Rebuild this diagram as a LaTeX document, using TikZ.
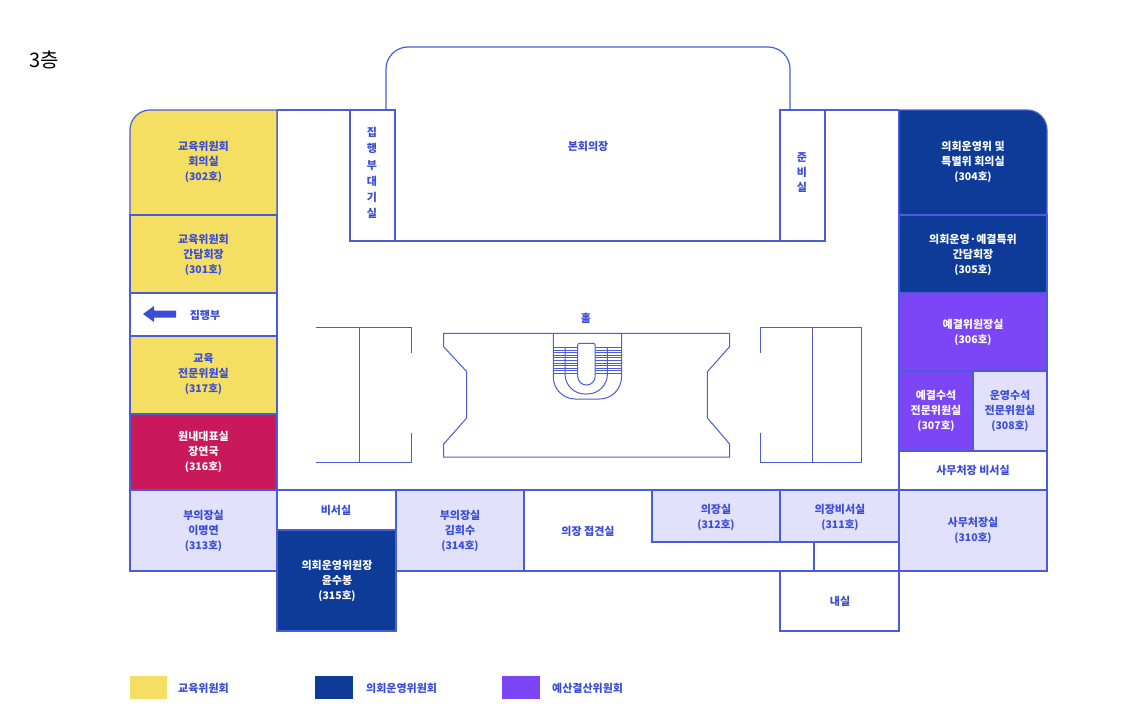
\documentclass[tikz,border=0pt]{standalone}
\usepackage{fontspec}
\setmainfont{Noto Sans CJK KR}
\definecolor{wallblue}{HTML}{4A5CD8}
\definecolor{txtblue}{HTML}{3B4DD6}
\definecolor{eduyellow}{HTML}{F5DF63}
\definecolor{opnavy}{HTML}{0E3B97}
\definecolor{budpurple}{HTML}{7C45F5}
\definecolor{repred}{HTML}{C9195A}
\definecolor{roomlav}{HTML}{E1E1FB}
\newcommand{\rno}[1]{{\fontsize{10.5}{15}\selectfont(#1호)}}
\begin{document}
\begin{tikzpicture}[x=1pt,y=-1pt,
    wall/.style={draw=wallblue, line width=1.2pt},
    thinwall/.style={draw=wallblue, line width=1pt},
    lbl/.style={text=txtblue, font=\bfseries\fontsize{11}{15}\selectfont, align=center, inner sep=0pt},
    wlbl/.style={lbl, text=white}]
  \useasboundingbox (0,0) rectangle (1140,720);
  \node (floor) at (44,60) {\fontsize{20}{24}\selectfont 3층};

  % outer walls of the middle block
  \draw[wall] (277,110) -- (350,110);
  \draw[wall] (825,110) -- (899,110);
  \draw[wall] (277,110) -- (277,490) -- (899,490) -- (899,110);

  % left column
  \draw[wall, fill=eduyellow] (130,215) -- (130,130) arc[start angle=180, end angle=270, radius=20]
    -- (277,110) -- (277,215) -- cycle;
  \node[lbl] (r302) at (203.5,162) {교육위원회\\회의실\\\rno{302}};
  \draw[wall, fill=eduyellow] (130,215) rectangle (277,293);
  \node[lbl] (r301) at (203.5,255) {교육위원회\\간담회장\\\rno{301}};
  \draw[wall, fill=white] (130,293) rectangle (277,336);
  \fill[txtblue] (176,310.5) -- (154,310.5) -- (154,306) -- (143,314) -- (154,322) -- (154,317.5) -- (176,317.5) -- cycle;
  \node[lbl] (exec) at (205,315) {집행부};
  \draw[wall, fill=eduyellow] (130,336) rectangle (277,414);
  \node[lbl] (r317) at (203.5,374.5) {교육\\전문위원실\\\rno{317}};
  \draw[wall, fill=repred] (130,414) rectangle (277,490);
  \node[wlbl] (r316) at (203.5,452) {원내대표실\\장연국\\\rno{316}};

  % top: plenary hall
  \draw[wall] (386,110) -- (386,69) arc[start angle=180, end angle=270, radius=22]
    -- (768,47) arc[start angle=270, end angle=360, radius=22] -- (790,110);
  \draw[wall, fill=white] (350,110) rectangle (395,241);
  \node[lbl, font=\bfseries\fontsize{11}{16.2}\selectfont] (waitrm) at (372,173) {집\\행\\부\\대\\기\\실};
  \draw[wall] (395,241) -- (780,241);
  \node[lbl] (plenary) at (588,146) {본회의장};
  \draw[wall, fill=white] (780,110) rectangle (825,241);
  \node[lbl] (prep) at (802,173) {준\\비\\실};

  % right column
  \draw[wall, fill=opnavy] (1047,215) -- (1047,130) arc[start angle=0, end angle=-90, radius=20]
    -- (899,110) -- (899,215) -- cycle;
  \node[wlbl] (r304) at (973,162) {의회운영위 및\\특별위 회의실\\\rno{304}};
  \draw[wall, fill=opnavy] (899,215) rectangle (1047,293);
  \node[wlbl] (r305) at (973,255) {의회운영·예결특위\\간담회장\\\rno{305}};
  \draw[wall, fill=budpurple] (899,293) rectangle (1047,371);
  \node[wlbl] (r306) at (973,332) {예결위원장실\\\rno{306}};
  \draw[wall, fill=budpurple] (899,371) rectangle (973,451);
  \node[wlbl] (r307) at (936,411) {예결수석\\전문위원실\\\rno{307}};
  \draw[wall, fill=roomlav] (973,371) rectangle (1047,451);
  \node[lbl] (r308) at (1010,411) {운영수석\\전문위원실\\\rno{308}};
  \draw[wall, fill=white] (899,451) rectangle (1047,490);
  \node[lbl] (secgen2) at (973,470) {사무처장 비서실};
  \draw[wall, fill=roomlav] (899,490) rectangle (1047,571);
  \node[lbl] (r310) at (973,530.5) {사무처장실\\\rno{310}};

  % bottom row
  \draw[wall, fill=roomlav] (130,490) rectangle (277,571);
  \node[lbl] (r313) at (203.5,531) {부의장실\\이명연\\\rno{313}};
  \draw[wall, fill=white] (277,490) rectangle (396,530);
  \node[lbl] (sec) at (336,510) {비서실};
  \draw[wall, fill=opnavy] (277,530) rectangle (396,631);
  \node[wlbl] (r315) at (337,581) {의회운영위원장\\윤수봉\\\rno{315}};
  \draw[wall, fill=roomlav] (396,490) rectangle (524,571);
  \node[lbl] (r314) at (460,531) {부의장실\\김희수\\\rno{314}};
  \draw[wall, fill=white] (524,490) rectangle (899,571);
  \node[lbl] (recep) at (588,531) {의장 접견실};
  \draw[wall, fill=roomlav] (652,490) rectangle (780,542);
  \node[lbl] (r312) at (716,517) {의장실\\\rno{312}};
  \draw[wall, fill=roomlav] (780,490) rectangle (899,542);
  \node[lbl] (r311) at (840,517) {의장비서실\\\rno{311}};
  \draw[wall] (814,542) -- (814,571);
  \draw[wall, fill=white] (780,571) rectangle (899,631);
  \node[lbl] (inner) at (840,601) {내실};

  % hall
  \node[lbl] (hall) at (586,318) {홀};
  \draw[thinwall] (443.7,333.3) -- (729.6,333.3) -- (729.6,346.7) -- (707.4,371.7) -- (707.4,418)
    -- (729.6,444) -- (729.6,457) -- (443.7,457) -- (443.7,444) -- (466.7,418) -- (466.7,371.7)
    -- (443.7,346.7) -- cycle;
  \draw[thinwall] (315.6,327) -- (411,327) -- (411,353);
  \draw[thinwall] (411,433) -- (411,462) -- (315.6,462);
  \draw[thinwall] (359,327) -- (359,462);
  \draw[thinwall] (760.4,353) -- (760.4,327) -- (861,327) -- (861,462) -- (760.4,462) -- (760.4,433);
  \draw[thinwall] (812,327) -- (812,462);

  % stairs
  \foreach \i in {0,...,10}
    \draw[draw=wallblue, line width=0.7pt] (553.3,347.7+2.53*\i) -- (621.5,347.7+2.53*\i);
  \draw[thinwall] (553.3,333.3) -- (553.3,377) arc[start angle=180, end angle=90, radius=22]
    -- (599.5,399) arc[start angle=90, end angle=0, radius=22] -- (621.5,333.3);
  \draw[thinwall] (565,347.7) -- (565,374) arc[start angle=180, end angle=90, radius=20]
    -- (587.4,394) arc[start angle=90, end angle=0, radius=20] -- (607.4,347.7);
  \draw[thinwall, fill=white] (577.7,376.3) -- (577.7,345.3) arc[start angle=180, end angle=270, radius=2]
    -- (593.2,343.3) arc[start angle=270, end angle=360, radius=2]
    -- (595.2,376.3) arc[start angle=0, end angle=180, radius=8.75];

  % legend
  \fill[eduyellow] (130,676) rectangle (167,699);
  \node[lbl, anchor=west] (leg1) at (178,688) {교육위원회};
  \fill[opnavy] (315,676) rectangle (353,699);
  \node[lbl, anchor=west] (leg2) at (366,688) {의회운영위원회};
  \fill[budpurple] (502,676) rectangle (540,699);
  \node[lbl, anchor=west] (leg3) at (552,688) {예산결산위원회};
\end{tikzpicture}
\end{document}
